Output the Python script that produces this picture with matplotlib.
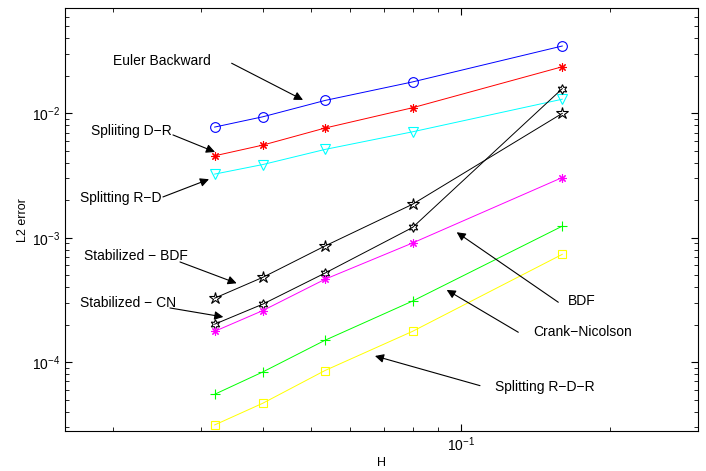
import numpy as np
import matplotlib
matplotlib.use("Agg")
import matplotlib.pyplot as plt

plt.rcParams['font.family'] = ['Liberation Sans', 'DejaVu Sans']

H = [0.032, 0.04, 0.16 / 3, 0.08, 0.16]

euler_backward = [7.76e-3, 9.39e-3, 1.27e-2, 1.79e-2, 3.48e-2]
splitting_dr = [4.56e-3, 5.56e-3, 7.62e-3, 1.11e-2, 2.37e-2]
splitting_rd = [3.25e-3, 3.88e-3, 5.13e-3, 7.11e-3, 1.30e-2]
stabilized_bdf = [3.27e-4, 4.81e-4, 8.59e-4, 1.86e-3, 1.00e-2]
stabilized_cn = [2.02e-4, 2.93e-4, 5.20e-4, 1.21e-3, 1.58e-2]
bdf = [1.77e-4, 2.60e-4, 4.64e-4, 9.08e-4, 3.05e-3]
crank_nicolson = [5.52e-5, 8.35e-5, 1.50e-4, 3.10e-4, 1.24e-3]
splitting_rdr = [3.13e-5, 4.68e-5, 8.57e-5, 1.77e-4, 7.36e-4]

fig = plt.figure(figsize=(7.06, 4.71), dpi=100)
ax = fig.add_axes([0.092, 0.085, 0.8967, 0.8975])

lw = 0.7
ms = 7
ax.loglog(H, euler_backward, color=(0, 0, 1), marker='o', mfc='none', lw=lw, ms=ms, mew=0.8)
ax.loglog(H, splitting_dr, color=(1, 0, 0), marker=(8, 2, 0), lw=lw, ms=ms - 1, mew=0.8)
ax.loglog(H, splitting_rd, color=(0, 1, 1), marker='v', mfc='none', lw=lw, ms=ms, mew=0.8)
ax.loglog(H, stabilized_bdf, color='k', marker='*', mfc='none', lw=lw, ms=ms + 2, mew=0.8)
ax.loglog(H, stabilized_cn, color='k', marker=(6, 1, 0), mfc='none', lw=lw, ms=ms, mew=0.8)
ax.loglog(H, bdf, color=(1, 0, 1), marker=(8, 2, 0), lw=lw, ms=ms - 1, mew=0.8)
ax.loglog(H, crank_nicolson, color=(0, 1, 0), marker='+', lw=lw, ms=ms, mew=0.8)
ax.loglog(H, splitting_rdr, color=(1, 1, 0), marker='s', mfc='none', lw=lw, ms=ms - 1, mew=0.8)

ax.set_xlim(0.016, 0.3)
ax.set_ylim(2.8e-5, 0.07)
ax.tick_params(which='both', direction='in', top=True, right=True, labelsize=10)
ax.tick_params(which='major', length=5)
ax.tick_params(which='minor', length=3)
ax.set_xlabel('H', fontsize=9, labelpad=2)
ax.set_ylabel('L2 error', fontsize=9, labelpad=2)

notes = [
    ("Euler Backward", (0.1525, 0.8753), 'center', (0.2633, 0.8699), (0.3760, 0.7831)),
    ("Spliiting D\u2212R", (0.1051, 0.7097), 'center', (0.1706, 0.7003), (0.2370, 0.6600)),
    ("Splitting R\u2212D", (0.0885, 0.5519), 'center', (0.1548, 0.5536), (0.2275, 0.5955)),
    ("Stabilized \u2212 BDF", (0.1122, 0.4147), 'center', (0.1817, 0.3998), (0.2712, 0.3494)),
    ("Stabilized \u2212 CN", (0.0995, 0.3021), 'center', (0.1659, 0.2910), (0.2501, 0.2697)),
    ("BDF", (0.7950, 0.3075), 'left', (0.7793, 0.3045), (0.6188, 0.4701)),
    ("Crank\u2212Nicolson", (0.7393, 0.2342), 'left', (0.7161, 0.2335), (0.6030, 0.3336)),
    ("Splitting R\u2212D\u2212R", (0.6793, 0.1034), 'left', (0.6556, 0.1072), (0.4897, 0.1774)),
]
for label, pos, ha, tail, head in notes:
    ax.text(pos[0], pos[1], label, transform=ax.transAxes, ha=ha, va='center', fontsize=10)
    ax.annotate('', xy=head, xytext=tail, xycoords='axes fraction', textcoords='axes fraction',
                arrowprops=dict(arrowstyle='-|>', color='k', lw=0.8, mutation_scale=13,
                                shrinkA=0, shrinkB=0))

fig.savefig('out.png', dpi=100)
